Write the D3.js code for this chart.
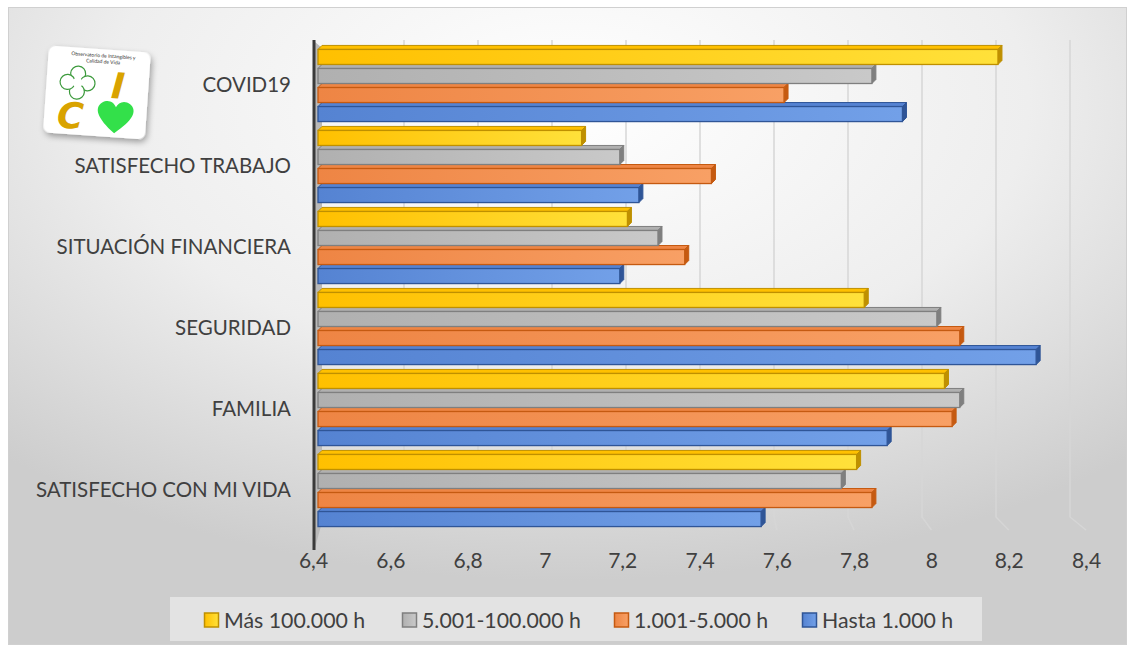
<!DOCTYPE html>
<html>
<head>
<meta charset="utf-8">
<script src="https://cdn.jsdelivr.net/npm/d3@7"></script>
<style>
  body { margin: 0; background: #fff; }
  svg { display: block; }
</style>
</head>
<body>
<svg width="1134" height="655"></svg>
<script>
const categories = ["COVID19", "SATISFECHO TRABAJO", "SITUACIÓN FINANCIERA", "SEGURIDAD", "FAMILIA", "SATISFECHO CON MI VIDA"];
const seriesNames = ["Más 100.000 h", "5.001-100.000 h", "1.001-5.000 h", "Hasta 1.000 h"];
const mas100000 = [8.18, 7.09, 7.21, 7.83, 8.04, 7.81];
const de5001a100000 = [7.85, 7.19, 7.29, 8.02, 8.08, 7.77];
const de1001a5000 = [7.62, 7.43, 7.36, 8.08, 8.06, 7.85];
const hasta1000 = [7.93, 7.24, 7.19, 8.28, 7.89, 7.56];
const xTicks = [6.4, 6.6, 6.8, 7, 7.2, 7.4, 7.6, 7.8, 8, 8.2, 8.4];

const seriesValues = [mas100000, de5001a100000, de1001a5000, hasta1000];
const colors = [
  { light: "#ffe13a", dark: "#ffc000", stroke: "#bf9000" },
  { light: "#c9c9c9", dark: "#b0b0b0", stroke: "#7f7f7f" },
  { light: "#f8a065", dark: "#ee8544", stroke: "#c55a11" },
  { light: "#72a0e8", dark: "#5583d2", stroke: "#2f5597" }
];

const svg = d3.select("svg");
const font = "Lato, 'Noto Sans', sans-serif";
const defs = svg.append("defs");

// background
const bg = defs.append("radialGradient").attr("id", "bg")
  .attr("cx", "50%").attr("cy", "15%").attr("r", "75%");
bg.append("stop").attr("offset", "0%").attr("stop-color", "#ffffff");
bg.append("stop").attr("offset", "55%").attr("stop-color", "#eeeeee");
bg.append("stop").attr("offset", "100%").attr("stop-color", "#cdcdcd");

colors.forEach((c, i) => {
  const g = defs.append("linearGradient").attr("id", "bar" + i)
    .attr("x1", "0%").attr("x2", "100%").attr("y1", "0%").attr("y2", "0%");
  g.append("stop").attr("offset", "0%").attr("stop-color", c.dark);
  g.append("stop").attr("offset", "100%").attr("stop-color", c.light);
});

const shadow = defs.append("filter").attr("id", "shadow")
  .attr("x", "-30%").attr("y", "-30%").attr("width", "160%").attr("height", "160%");
shadow.append("feDropShadow").attr("dx", 2).attr("dy", 3).attr("stdDeviation", 3)
  .attr("flood-color", "#000").attr("flood-opacity", 0.35);

svg.append("rect").attr("x", 8.5).attr("y", 7.5).attr("width", 1118).attr("height", 637)
  .attr("fill", "url(#bg)").attr("stroke", "#d0d0d0");

// scales: front of bars, back wall, front labels
const x = d3.scaleLinear().domain([6.4, 8.4]).range([318, 1082]);
const xBack = d3.scaleLinear().domain([6.4, 8.4]).range([330, 1070]);
const xFront = d3.scaleLinear().domain([6.4, 8.4]).range([313, 1086]);

const y = d3.scaleBand().domain(categories).range([43, 529]).paddingInner(0.06).paddingOuter(0.03);
const ySub = d3.scaleBand().domain(d3.range(seriesNames.length)).range([0, y.bandwidth()]);

// gridlines (back wall + floor)
const grid = svg.append("g");
xTicks.slice(1).forEach(t => {
  grid.append("path")
    .attr("d", `M${xBack(t)},40 L${xBack(t)},517 L${xFront(t)},530`)
    .attr("fill", "none").attr("stroke", "#d6d6d6").attr("stroke-width", 1.5);
});

// side wall
svg.append("path").attr("d", "M315,42 L322,48 L322,522 L315,548 Z").attr("fill", "#b9b9b9");
svg.append("line").attr("x1", 314).attr("x2", 314).attr("y1", 40).attr("y2", 550)
  .attr("stroke", "#3a3a3a").attr("stroke-width", 3);

// bars
const d = 4;
const bars = svg.append("g");
categories.forEach((cat, ci) => {
  for (let si = seriesNames.length - 1; si >= 0; si--) {
    const v = seriesValues[si][ci];
    const x0 = x(6.4), x1 = x(v);
    const yt = y(cat) + ySub(si);
    const h = ySub.bandwidth();
    const c = colors[si];
    const g = bars.append("g");
    g.append("path")
      .attr("d", `M${x0},${yt + d} L${x0 + d},${yt} L${x1 + d},${yt} L${x1},${yt + d} Z`)
      .attr("fill", c.dark).attr("stroke", c.stroke).attr("stroke-width", 1);
    g.append("path")
      .attr("d", `M${x1},${yt + d} L${x1 + d},${yt} L${x1 + d},${yt + h - d} L${x1},${yt + h} Z`)
      .attr("fill", c.stroke).attr("stroke", c.stroke).attr("stroke-width", 1);
    g.append("rect")
      .attr("x", x0).attr("y", yt + d).attr("width", x1 - x0).attr("height", h - d)
      .attr("fill", `url(#bar${si})`).attr("stroke", c.stroke).attr("stroke-width", 1.3);
  }
});

// category labels
svg.append("g").selectAll("text").data(categories).join("text")
  .attr("x", 291).attr("y", c => y(c) + y.bandwidth() / 2)
  .attr("text-anchor", "end").attr("dominant-baseline", "central")
  .attr("font-family", font).attr("font-size", 20.5).attr("fill", "#404040")
  .text(c => c);

// x axis labels
const locale = d3.formatLocale({ decimal: ",", thousands: ".", grouping: [3], currency: ["", "€"] });
const xAxis = svg.append("g").attr("transform", "translate(0,545)")
  .call(d3.axisBottom(xFront).tickValues(xTicks).tickFormat(locale.format(".1~f")).tickSize(0).tickPadding(8));
xAxis.select(".domain").remove();
xAxis.selectAll("text").attr("font-family", font).attr("font-size", 21).attr("fill", "#404040");

// legend
const legend = svg.append("g");
legend.append("rect").attr("x", 170).attr("y", 597).attr("width", 812).attr("height", 44)
  .attr("fill", "#ffffff").attr("fill-opacity", 0.45);
const legendX = [204, 402, 614, 802];
seriesNames.forEach((s, i) => {
  const lg = legend.append("g").attr("transform", `translate(${legendX[i]},620)`);
  lg.append("rect").attr("x", 0.5).attr("y", -7).attr("width", 14).attr("height", 14)
    .attr("fill", `url(#bar${i})`).attr("stroke", colors[i].stroke).attr("stroke-width", 1.5);
  lg.append("text").attr("x", 20).attr("y", 0).attr("dominant-baseline", "central")
    .attr("font-family", font).attr("font-size", 21.3).attr("fill", "#404040").text(s);
});

// logo
const logo = svg.append("g").attr("transform", "translate(97,91) rotate(4)");
logo.append("rect").attr("x", -51).attr("y", -42).attr("width", 102).attr("height", 87).attr("rx", 7)
  .attr("fill", "#ffffff").attr("filter", "url(#shadow)");
logo.append("text").attr("x", 4).attr("y", -34).attr("text-anchor", "middle")
  .attr("font-family", font).attr("font-size", 5).attr("fill", "#333").text("Observatorio de Intangibles y");
logo.append("text").attr("x", 4).attr("y", -28).attr("text-anchor", "middle")
  .attr("font-family", font).attr("font-size", 5).attr("fill", "#333").text("Calidad de Vida");
[[-20, -16], [-10, -7], [-20, 2], [-30, -7]].forEach(p => {
  logo.append("circle").attr("cx", p[0]).attr("cy", p[1]).attr("r", 7.5)
    .attr("fill", "#fff").attr("stroke", "#3c9a3c").attr("stroke-width", 1.2);
});
logo.append("circle").attr("cx", -20).attr("cy", -7).attr("r", 5).attr("fill", "#fff");
logo.append("text").attr("x", 14).attr("y", 6).attr("font-family", "'DejaVu Sans', sans-serif")
  .attr("font-weight", "bold").attr("font-style", "italic").attr("font-size", 36)
  .attr("fill", "#d9a300").text("I");
logo.append("text").attr("x", -38).attr("y", 39).attr("font-family", "'DejaVu Sans', sans-serif")
  .attr("font-weight", "bold").attr("font-style", "italic").attr("font-size", 36)
  .attr("fill", "#d9a300").text("C");
logo.append("path")
  .attr("d", "M20,41 C2,27 -2,17 6,11 C12,7 18,10 20,15 C22,10 28,7 34,11 C42,17 38,27 20,41 Z")
  .attr("fill", "#33e04a");
</script>
</body>
</html>
